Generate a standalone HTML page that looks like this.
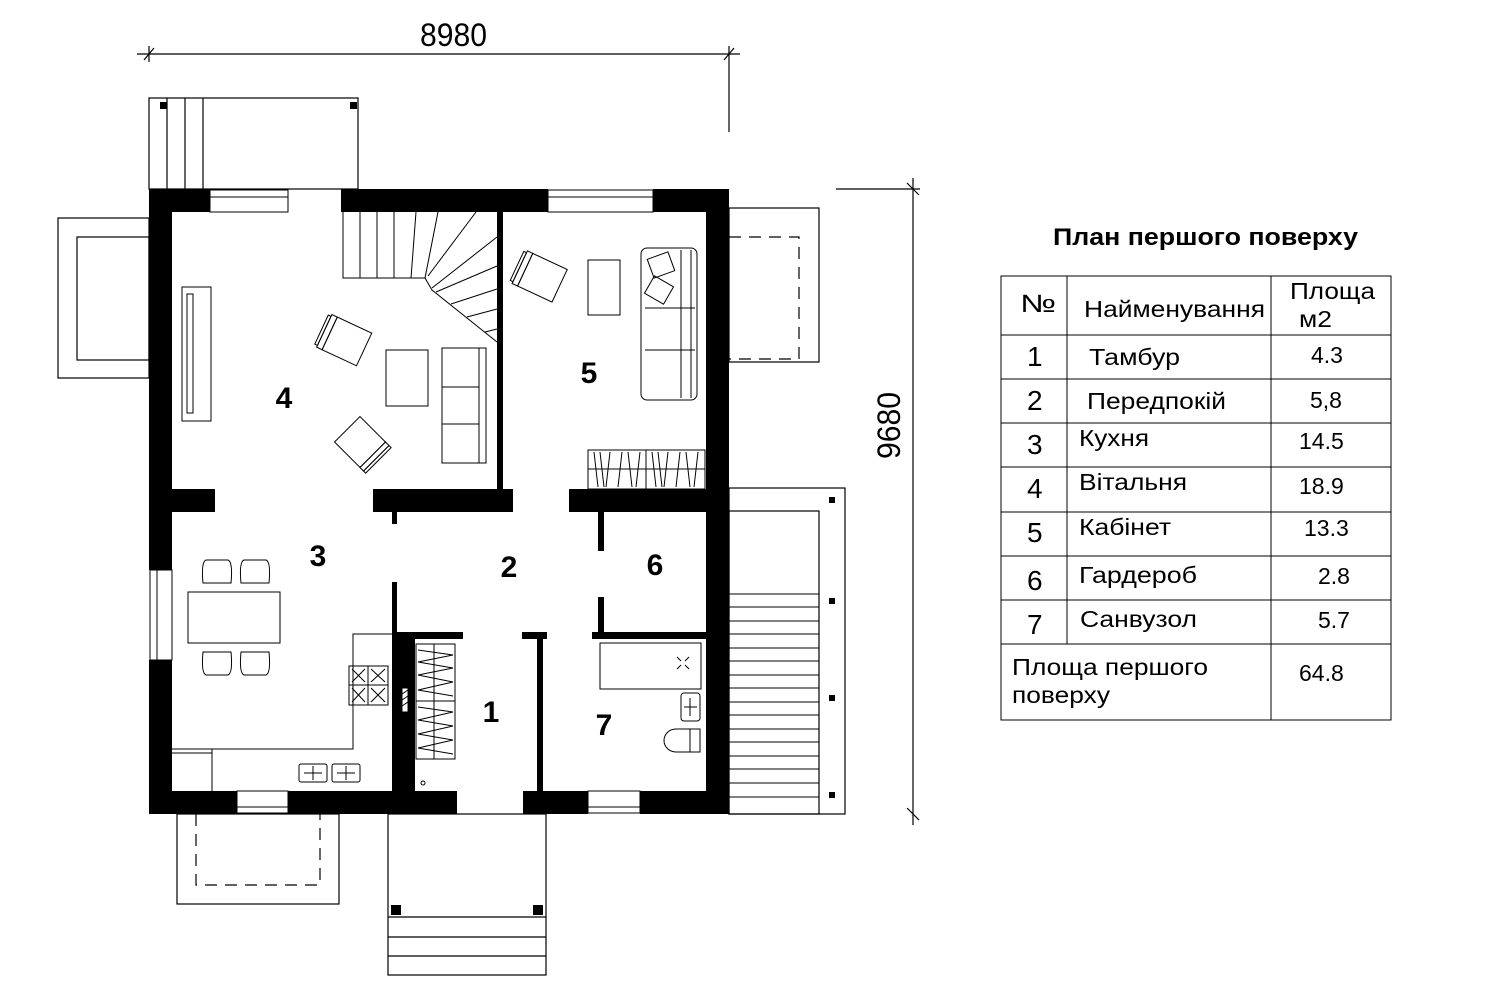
<!DOCTYPE html>
<html><head><meta charset="utf-8"><style>
html,body{margin:0;padding:0;background:#fff;}
svg{display:block;}
text{font-family:"Liberation Sans",sans-serif;}
</style></head><body>
<svg width="1500" height="1000" viewBox="0 0 1500 1000" xmlns="http://www.w3.org/2000/svg">
<rect width="1500" height="1000" fill="#fff"/>
<g fill="none" stroke="#000" stroke-width="1.2">
<line x1="137" y1="54" x2="740" y2="54"/>
<line x1="144" y1="60" x2="154" y2="48"/><line x1="149" y1="46" x2="149" y2="62"/>
<line x1="724" y1="60" x2="734" y2="48"/><line x1="729" y1="46" x2="729" y2="132"/>
<line x1="913" y1="178" x2="913" y2="825"/>
<line x1="836" y1="189" x2="920" y2="189"/><line x1="907" y1="183" x2="919" y2="195"/>
<line x1="907" y1="808" x2="919" y2="820"/>
<rect x="149" y="98" width="209" height="91"/>
<line x1="167" y1="98" x2="167" y2="189"/><line x1="185" y1="98" x2="185" y2="189"/><line x1="203" y1="98" x2="203" y2="189"/>
<rect x="58" y="218" width="91" height="160"/>
<rect x="77" y="237" width="72" height="123"/>
<rect x="729" y="208" width="90" height="154"/>
<path d="M729 237 H799 V359 H729" stroke-dasharray="12 8"/>
<rect x="177" y="814" width="162" height="90"/>
<path d="M196 814 V885 H320 V814" stroke-dasharray="12 8"/>
<rect x="388" y="814" width="158" height="161"/>
<line x1="388" y1="917" x2="546" y2="917"/><line x1="388" y1="937" x2="546" y2="937"/><line x1="388" y1="956" x2="546" y2="956"/>
<rect x="729" y="488" width="116" height="326"/>
<rect x="729" y="511" width="90" height="303"/>
</g>
<g stroke="#000" stroke-width="1">
<line x1="729" y1="594" x2="819" y2="594"/><line x1="729" y1="607" x2="819" y2="607"/><line x1="729" y1="621" x2="819" y2="621"/><line x1="729" y1="634" x2="819" y2="634"/><line x1="729" y1="648" x2="819" y2="648"/><line x1="729" y1="661" x2="819" y2="661"/><line x1="729" y1="675" x2="819" y2="675"/><line x1="729" y1="688" x2="819" y2="688"/><line x1="729" y1="702" x2="819" y2="702"/><line x1="729" y1="715" x2="819" y2="715"/><line x1="729" y1="729" x2="819" y2="729"/><line x1="729" y1="742" x2="819" y2="742"/><line x1="729" y1="756" x2="819" y2="756"/><line x1="729" y1="769" x2="819" y2="769"/><line x1="729" y1="783" x2="819" y2="783"/><line x1="729" y1="797" x2="819" y2="797"/>
</g>
<g fill="#000">
<rect x="160" y="102" width="7" height="7"/><rect x="350" y="102" width="7" height="7"/>
<rect x="829" y="497" width="6" height="6"/><rect x="829" y="598" width="6" height="6"/><rect x="829" y="695" width="6" height="6"/><rect x="829" y="792" width="6" height="6"/>
<rect x="391" y="905" width="10" height="10"/><rect x="533" y="905" width="10" height="10"/>
<rect x="149" y="189" width="61" height="23"/>
<rect x="341" y="189" width="207" height="23"/>
<rect x="653" y="189" width="76" height="23"/>
<rect x="149" y="189" width="23" height="381"/>
<rect x="149" y="660" width="23" height="154"/>
<rect x="706" y="189" width="23" height="625"/>
<rect x="149" y="791" width="88" height="23"/>
<rect x="288" y="791" width="169" height="23"/>
<rect x="523" y="791" width="65" height="23"/>
<rect x="640" y="791" width="89" height="23"/>
<rect x="497" y="212" width="6" height="278"/>
<rect x="149" y="489" width="66" height="23"/>
<rect x="373" y="489" width="140" height="23"/>
<rect x="569" y="489" width="137" height="23"/>
<rect x="392" y="512" width="5" height="12"/>
<rect x="392" y="582" width="5" height="209"/>
<rect x="397" y="632" width="66" height="7"/>
<rect x="397" y="639" width="18" height="152"/>
<rect x="522" y="632" width="25" height="7"/>
<rect x="537" y="632" width="6" height="159"/>
<rect x="598" y="512" width="6" height="39"/>
<rect x="598" y="597" width="6" height="39"/>
<rect x="592" y="632" width="114" height="7"/>
</g>
<g fill="#fff" stroke="#000" stroke-width="1">
<rect x="210" y="190" width="78" height="22"/><line x1="210" y1="197" x2="288" y2="197"/>
<rect x="548" y="190" width="105" height="22"/><line x1="548" y1="197" x2="653" y2="197"/>
<rect x="150" y="570" width="22" height="90"/><line x1="157" y1="570" x2="157" y2="660"/>
<rect x="237" y="791" width="51" height="22"/><line x1="237" y1="807" x2="288" y2="807"/>
<rect x="588" y="791" width="52" height="22"/><line x1="588" y1="807" x2="640" y2="807"/>
<rect x="402" y="688" width="6" height="24"/>
</g>
<g stroke="#000" stroke-width="1"><line x1="402" y1="694" x2="408" y2="690"/><line x1="402" y1="700" x2="408" y2="696"/><line x1="402" y1="706" x2="408" y2="702"/></g>
<g fill="none" stroke="#000" stroke-width="1">
<path d="M343 212 V278 H425 L432 290 L497 342"/>
<line x1="360" y1="212" x2="360" y2="278"/><line x1="377" y1="212" x2="377" y2="278"/><line x1="394" y1="212" x2="394" y2="278"/>
<line x1="416" y1="212" x2="411" y2="278"/><line x1="438" y1="212" x2="425" y2="278"/><line x1="476" y1="212" x2="428" y2="276"/>
<line x1="497" y1="237" x2="432" y2="288"/><line x1="497" y1="266" x2="436" y2="292"/><line x1="497" y1="289" x2="451" y2="304"/><line x1="497" y1="309" x2="467" y2="317"/><line x1="497" y1="329" x2="485" y2="332"/>
<rect x="182" y="287" width="29" height="134"/><rect x="187" y="294" width="6" height="119"/>
<g transform="rotate(25 346 341)"><rect x="328" y="323" width="38" height="36"/><rect x="322" y="323" width="6" height="36"/><rect x="319" y="325" width="3" height="32"/></g>
<g transform="rotate(-45 360 442)"><rect x="342" y="424" width="36" height="36"/><rect x="342" y="460" width="36" height="5"/><rect x="342" y="465" width="36" height="3"/></g>
<rect x="386" y="350" width="42" height="56"/>
<rect x="442" y="348" width="44" height="115"/><line x1="442" y1="387" x2="479" y2="387"/><line x1="442" y1="424" x2="479" y2="424"/><line x1="479" y1="348" x2="479" y2="463"/>
<g transform="rotate(25 541 276)"><rect x="524" y="259" width="38" height="36"/><rect x="518" y="259" width="6" height="36"/><rect x="515" y="261" width="3" height="32"/></g>
<rect x="588" y="260" width="32" height="55"/>
<rect x="641" y="248" width="56" height="152" rx="6"/><line x1="681" y1="250" x2="681" y2="398"/><line x1="691" y1="250" x2="691" y2="398"/><line x1="645" y1="308" x2="695" y2="308"/><line x1="645" y1="350" x2="695" y2="350"/>
<rect x="650" y="255" width="22" height="20" transform="rotate(-20 661 265)"/><rect x="648" y="280" width="22" height="20" transform="rotate(30 659 290)"/>
<rect x="588" y="450" width="117" height="39"/><line x1="646" y1="450" x2="646" y2="489"/><line x1="588" y1="469" x2="705" y2="469"/>
<path d="M594 452 L598 487 M600 452 L604 487 M610 452 L606 487 M622 452 L618 487 M628 452 L632 487 M640 452 L636 487 M652 452 L656 487 M658 452 L662 487 M668 452 L664 487 M680 452 L676 487 M686 452 L690 487 M698 452 L694 487"/>
<rect x="188" y="592" width="92" height="51"/>
<path d="M203 583 Q201 562 206 560 H228 Q233 562 231 583 Z"/><path d="M241 583 Q239 562 244 560 H266 Q271 562 269 583 Z"/>
<path d="M203 652 Q201 673 206 675 H228 Q233 673 231 652 Z"/><path d="M241 652 Q239 673 244 675 H266 Q271 673 269 652 Z"/>
<path d="M392 634 H353 V749 H172"/>
<line x1="212" y1="749" x2="212" y2="791"/><line x1="172" y1="753" x2="212" y2="753"/>
<rect x="349" y="666" width="39" height="39"/><line x1="368" y1="666" x2="368" y2="705"/><line x1="349" y1="685" x2="388" y2="685"/>
<path d="M352 669 L365 682 M365 669 L352 682 M371 669 L385 682 M385 669 L371 682 M352 688 L365 702 M365 688 L352 702 M371 688 L385 702 M385 688 L371 702"/>
<rect x="299" y="764" width="28" height="18" rx="2"/><rect x="332" y="764" width="28" height="18" rx="2"/>
<path d="M313 766 V780 M304 773 H322 M346 766 V780 M337 773 H355"/>
<rect x="416" y="644" width="39" height="115"/><line x1="434" y1="644" x2="434" y2="759"/><line x1="416" y1="701" x2="455" y2="701"/>
<path d="M418 650 L453 655 L418 662 L453 668 L418 675 L453 682 L418 690 L453 696 M418 707 L453 712 L418 720 L453 726 L418 734 L453 740 L418 748 L453 754"/>
<circle cx="423" cy="783" r="2"/>
<rect x="600" y="643" width="101" height="46"/>
<path d="M677 657 l4 4 M689 657 l-4 4 M677 669 l4 -4 M689 669 l-4 -4"/>
<rect x="681" y="693" width="19" height="28" rx="3"/><path d="M690 698 V716 M684 707 H697"/>
<path d="M690 729 H700 V752 H676 A12 11.5 0 0 1 676 729 Z"/><line x1="690" y1="729" x2="690" y2="752"/>
</g>
<g font-weight="bold" font-size="30" text-anchor="middle" fill="#000">
<text x="284" y="408">4</text><text x="589" y="383">5</text><text x="318" y="566">3</text><text x="509" y="577">2</text><text x="655" y="575">6</text><text x="491" y="722">1</text><text x="604" y="735">7</text>
</g>
<text x="420" y="46" font-size="32" textLength="67" lengthAdjust="spacingAndGlyphs">8980</text>
<text x="0" y="0" font-size="32" textLength="67" lengthAdjust="spacingAndGlyphs" transform="translate(900 459) rotate(-90)">9680</text>
<text x="1053" y="245" font-size="24" font-weight="bold" textLength="305" lengthAdjust="spacingAndGlyphs">План першого поверху</text>
<g fill="none" stroke="#000" stroke-width="1">
<rect x="1001" y="276" width="390" height="444"/>
<line x1="1067" y1="276" x2="1067" y2="644"/><line x1="1271" y1="276" x2="1271" y2="720"/>
<line x1="1001" y1="335" x2="1391" y2="335"/><line x1="1001" y1="379" x2="1391" y2="379"/><line x1="1001" y1="423" x2="1391" y2="423"/><line x1="1001" y1="467" x2="1391" y2="467"/><line x1="1001" y1="512" x2="1391" y2="512"/><line x1="1001" y1="556" x2="1391" y2="556"/><line x1="1001" y1="600" x2="1391" y2="600"/><line x1="1001" y1="644" x2="1391" y2="644"/>
</g>
<g font-size="23" fill="#000">
<text x="1020" y="312" font-size="25" textLength="36" lengthAdjust="spacingAndGlyphs">№</text>
<text x="1084" y="317" textLength="181" lengthAdjust="spacingAndGlyphs">Найменування</text>
<text x="1290" y="299" textLength="85" lengthAdjust="spacingAndGlyphs">Площа</text><text x="1299" y="327" textLength="33" lengthAdjust="spacingAndGlyphs">м2</text>
<g font-size="28"><text x="1027" y="366">1</text><text x="1027" y="410">2</text><text x="1027" y="454">3</text><text x="1027" y="498">4</text><text x="1027" y="542">5</text><text x="1027" y="590">6</text><text x="1027" y="634">7</text></g>
<text x="1089" y="365" textLength="91" lengthAdjust="spacingAndGlyphs">Тамбур</text>
<text x="1087" y="409" textLength="139" lengthAdjust="spacingAndGlyphs">Передпокій</text>
<text x="1079" y="446" textLength="70" lengthAdjust="spacingAndGlyphs">Кухня</text>
<text x="1079" y="490" textLength="108" lengthAdjust="spacingAndGlyphs">Вітальня</text>
<text x="1079" y="535" textLength="92" lengthAdjust="spacingAndGlyphs">Кабінет</text>
<text x="1079" y="583" textLength="118" lengthAdjust="spacingAndGlyphs">Гардероб</text>
<text x="1080" y="627" textLength="117" lengthAdjust="spacingAndGlyphs">Санвузол</text>
<text x="1311" y="363">4.3</text><text x="1310" y="408">5,8</text><text x="1299" y="449">14.5</text><text x="1299" y="494">18.9</text><text x="1304" y="536">13.3</text><text x="1318" y="584">2.8</text><text x="1318" y="628">5.7</text>
<text x="1012" y="675" textLength="196" lengthAdjust="spacingAndGlyphs">Площа першого</text><text x="1012" y="703" textLength="98" lengthAdjust="spacingAndGlyphs">поверху</text>
<text x="1299" y="681">64.8</text>
</g>
</svg>
</body></html>
